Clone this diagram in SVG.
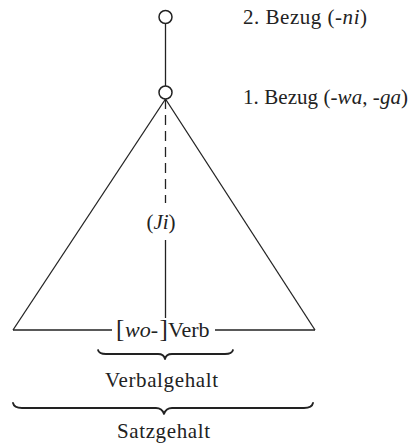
<svg xmlns="http://www.w3.org/2000/svg" width="411" height="443" viewBox="0 0 411 443">
<style>
.ln{stroke:#222;stroke-width:1.3;fill:none}
.nd{stroke:#222;stroke-width:1.5;fill:#fff}
.br{stroke:#222;stroke-width:1.8;fill:none;stroke-linejoin:round;stroke-linecap:round}
text{font-family:"Liberation Serif","Times New Roman",serif;font-size:21px;fill:#222}
.it{font-style:italic}
.bk{font-size:25px}
.vb{font-size:22px}
</style>
<rect width="411" height="443" fill="#fff"/>
<g id="connectors">
<line class="ln" x1="165.5" y1="24" x2="165.5" y2="86"/>
<line class="ln" x1="165.5" y1="99" x2="13" y2="330"/>
<line class="ln" x1="165.5" y1="99" x2="315" y2="330"/>
<line class="ln" x1="165.5" y1="99" x2="165.5" y2="203" stroke-dasharray="10 6"/>
<line class="ln" x1="165.5" y1="240" x2="165.5" y2="318"/>
<line class="ln" x1="13" y1="330" x2="112" y2="330"/>
<line class="ln" x1="215" y1="330" x2="315" y2="330"/>
</g>
<g id="node-top">
<circle class="nd" cx="165.5" cy="17" r="6.5"/>
<text x="243" y="24" textLength="124" lengthAdjust="spacing">2. Bezug (<tspan class="it">-ni</tspan>)</text>
</g>
<g id="node-apex">
<circle class="nd" cx="165.5" cy="92.5" r="6.5"/>
<text x="243" y="104" textLength="165" lengthAdjust="spacing">1. Bezug (<tspan class="it">-wa</tspan>, <tspan class="it">-ga</tspan>)</text>
</g>
<g id="label-ji">
<text x="161" y="229" text-anchor="middle">(<tspan class="it">Ji</tspan>)</text>
</g>
<g id="node-verb">
<text y="337" class="vb"><tspan x="116" class="bk">[</tspan><tspan x="125" class="it">wo-</tspan><tspan x="159.5" class="bk">]</tspan><tspan x="168">Verb</tspan></text>
</g>
<g id="brace-verbalgehalt">
<path class="br" d="M98,350 Q99,354 106,354 L158,354 Q164,354 165,359 Q166,354 172,354 L225,354 Q232,354 233,350"/>
<text x="105" y="387" textLength="113" lengthAdjust="spacing">Verbalgehalt</text>
</g>
<g id="brace-satzgehalt">
<path class="br" d="M13,403 Q14,408 22,408 L156,408 Q162,408 164,414 Q166,408 172,408 L304,408 Q312,408 313,403"/>
<text x="117" y="438" textLength="93" lengthAdjust="spacing">Satzgehalt</text>
</g>
</svg>
